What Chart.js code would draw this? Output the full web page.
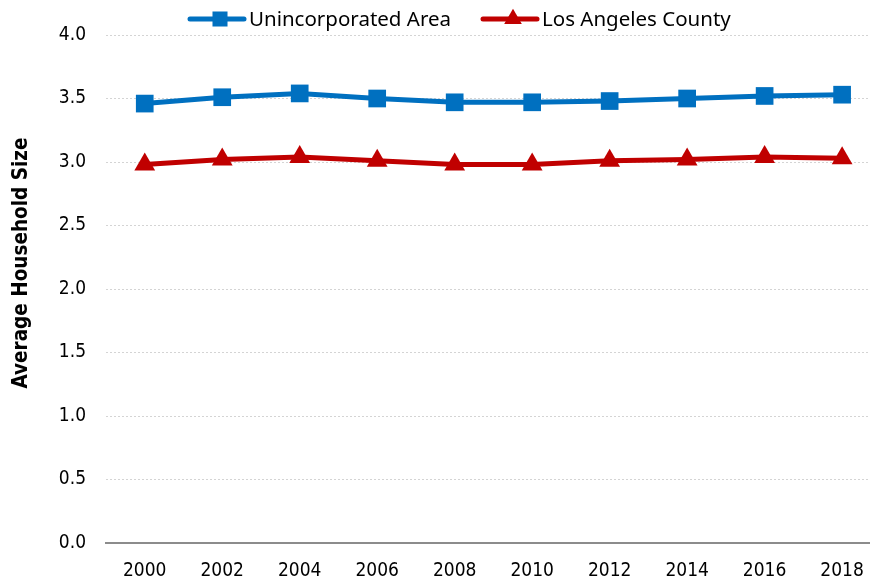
<!DOCTYPE html>
<html>
<head>
<meta charset="utf-8">
<script src="https://cdn.jsdelivr.net/npm/chart.js@4"></script>
<style>
  html, body { margin: 0; padding: 0; background: #fff; overflow: hidden; }
  #hh { display: block; }
</style>
</head>
<body>
<canvas id="hh" width="870" height="582"></canvas>
<script>
const years = [2000, 2002, 2004, 2006, 2008, 2010, 2012, 2014, 2016, 2018];
const unincorporated = [3.46, 3.51, 3.54, 3.50, 3.47, 3.47, 3.48, 3.50, 3.52, 3.53];
const laCounty = [2.98, 3.02, 3.04, 3.01, 2.98, 2.98, 3.01, 3.02, 3.04, 3.03];
const yTicks = [0, 0.5, 1, 1.5, 2, 2.5, 3, 3.5, 4];

const BLUE = '#0070C0';
const RED = '#C00000';
const NARROW = '"DejaVu Sans Condensed", "Liberation Sans"';

const pts = vals => years.map((yr, i) => ({ x: yr, y: vals[i] }));

// legend + y title drawn by hand, the office chart puts them a bit off-center
const extras = {
  id: 'extras',
  afterDraw(chart) {
    const ctx = chart.ctx;
    const items = [
      { ds: chart.data.datasets[0], x: 190 },
      { ds: chart.data.datasets[1], x: 483 }
    ];
    const y = 19;
    ctx.save();
    items.forEach(it => {
      ctx.strokeStyle = it.ds.borderColor;
      ctx.fillStyle = it.ds.backgroundColor;
      ctx.lineWidth = 5;
      ctx.lineCap = 'round';
      ctx.beginPath();
      ctx.moveTo(it.x, y);
      ctx.lineTo(it.x + 54, y);
      ctx.stroke();
      Chart.helpers.drawPoint(ctx, {
        pointStyle: it.ds.pointStyle,
        radius: it.ds.pointRadius * 0.85,
        borderWidth: 0
      }, it.x + 30, y);
      ctx.fillStyle = '#000';
      ctx.font = '20.5px "Noto Sans"';
      ctx.textBaseline = 'middle';
      ctx.textAlign = 'left';
      ctx.fillText(it.ds.label, it.x + 59, y + 1);
    });

    ctx.translate(22, 263);
    ctx.rotate(-Math.PI / 2);
    ctx.font = 'bold 20.5px ' + NARROW;
    ctx.textAlign = 'center';
    ctx.textBaseline = 'middle';
    ctx.fillStyle = '#000';
    ctx.fillText('Average Household Size', 0, 0);
    ctx.restore();
  }
};

new Chart(document.getElementById('hh'), {
  type: 'line',
  data: {
    datasets: [
      {
        label: 'Unincorporated Area',
        data: pts(unincorporated),
        borderColor: BLUE,
        backgroundColor: BLUE,
        borderWidth: 5,
        pointStyle: 'rect',
        pointRadius: 12.5,
        pointBorderWidth: 0,
        tension: 0
      },
      {
        label: 'Los Angeles County',
        data: pts(laCounty),
        borderColor: RED,
        backgroundColor: RED,
        borderWidth: 5,
        pointStyle: 'triangle',
        pointRadius: 12,
        pointBorderWidth: 0,
        tension: 0
      }
    ]
  },
  options: {
    responsive: false,
    animation: false,
    layout: { autoPadding: false, padding: { top: 35, right: 0, left: 0, bottom: 0 } },
    plugins: {
      legend: { display: false },
      tooltip: { enabled: false }
    },
    scales: {
      x: {
        type: 'linear',
        min: 1999,
        max: 2018.72,
        afterBuildTicks: s => { s.ticks = years.map(v => ({ value: v })); },
        grid: { display: false, drawTicks: false },
        border: { display: true, color: '#8c8c8c', width: 2 },
        ticks: {
          color: '#000',
          padding: 17,
          maxRotation: 0,
          callback: v => String(v),
          font: { family: NARROW, size: 19 }
        },
        afterFit: s => {
          s.height = 39;
          s.paddingLeft = 0;
          s.paddingRight = 0;
        }
      },
      y: {
        min: 0,
        max: 4,
        afterBuildTicks: s => { s.ticks = yTicks.map(v => ({ value: v })); },
        grid: {
          drawTicks: false,
          color: c => c.tick.value === 0 ? 'rgba(0,0,0,0)' : '#d4d4d4',
          lineWidth: 1
        },
        border: { display: false, dash: [2, 2] },
        ticks: {
          color: '#000',
          padding: 20,
          callback: v => Number(v).toFixed(1),
          font: { family: NARROW, size: 19 }
        },
        afterFit: s => { s.width = 106; }
      }
    }
  },
  plugins: [extras]
});
</script>
</body>
</html>
